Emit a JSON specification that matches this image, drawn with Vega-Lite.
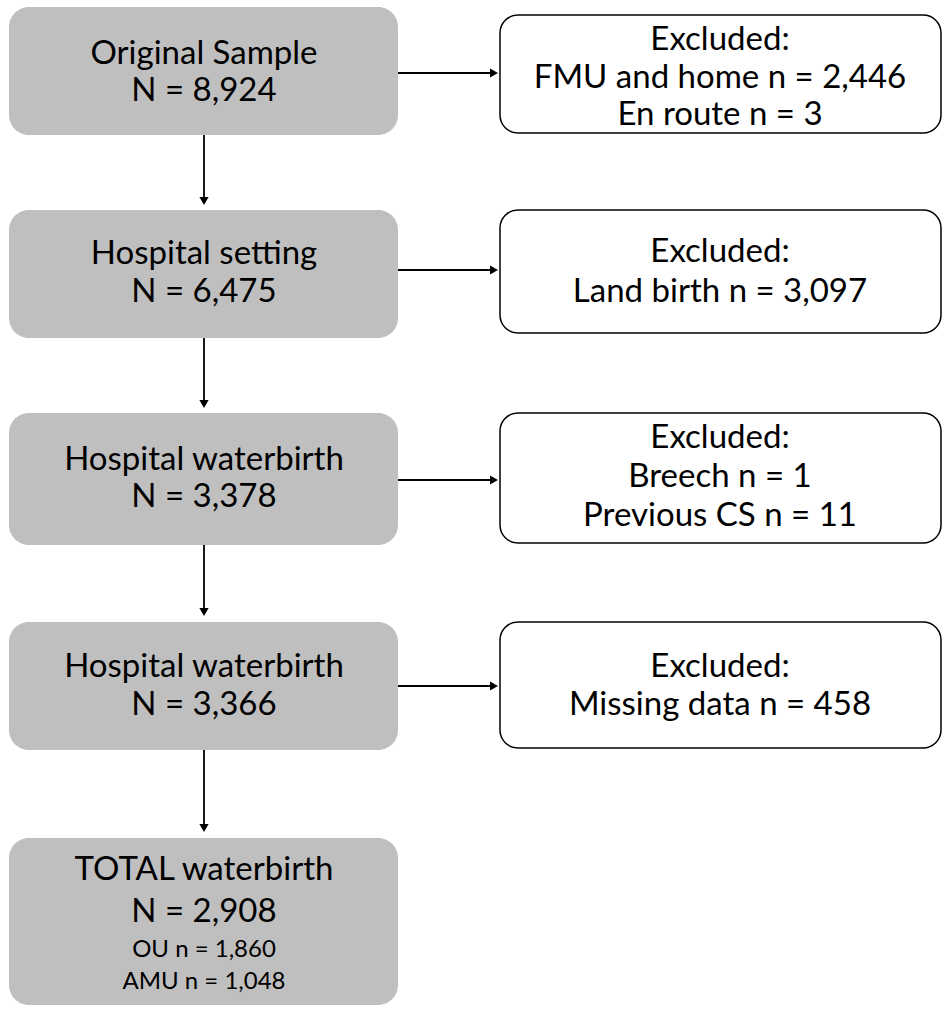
{
  "$schema": "https://vega.github.io/schema/vega-lite/v6.json",
  "autosize": {"type": "fit", "contains": "padding"},
  "width": 943,
  "height": 1010,
  "padding": 0,
  "background": "white",
  "config": {"view": {"stroke": null}},
  "datasets": {
    "boxes": [
      {"kind": "main", "x1": 9, "x2": 398, "y1": 7, "y2": 135},
      {"kind": "main", "x1": 9, "x2": 398, "y1": 210, "y2": 338},
      {"kind": "main", "x1": 9, "x2": 398, "y1": 413, "y2": 545},
      {"kind": "main", "x1": 9, "x2": 398, "y1": 622, "y2": 750},
      {"kind": "main", "x1": 9, "x2": 398, "y1": 838, "y2": 1005},
      {"kind": "excl", "x1": 500, "x2": 941, "y1": 15, "y2": 133},
      {"kind": "excl", "x1": 500, "x2": 941, "y1": 210, "y2": 333},
      {"kind": "excl", "x1": 500, "x2": 941, "y1": 413, "y2": 543},
      {"kind": "excl", "x1": 500, "x2": 941, "y1": 622, "y2": 748}
    ],
    "arrows": [
      {"dir": "down", "x1": 204, "x2": 204, "y1": 135, "y2": 201},
      {"dir": "down", "x1": 204, "x2": 204, "y1": 338, "y2": 404},
      {"dir": "down", "x1": 204, "x2": 204, "y1": 545, "y2": 612},
      {"dir": "down", "x1": 204, "x2": 204, "y1": 750, "y2": 828},
      {"dir": "right", "x1": 398, "x2": 494, "y1": 73, "y2": 73},
      {"dir": "right", "x1": 398, "x2": 494, "y1": 270, "y2": 270},
      {"dir": "right", "x1": 398, "x2": 494, "y1": 480, "y2": 480},
      {"dir": "right", "x1": 398, "x2": 494, "y1": 686, "y2": 686}
    ],
    "labels": [
      {"kind": "big", "x": 204, "y": 54, "label": "Original Sample"},
      {"kind": "big", "x": 204, "y": 91, "label": "N = 8,924"},
      {"kind": "big", "x": 204, "y": 254, "label": "Hospital setting"},
      {"kind": "big", "x": 204, "y": 292, "label": "N = 6,475"},
      {"kind": "big", "x": 204, "y": 460, "label": "Hospital waterbirth"},
      {"kind": "big", "x": 204, "y": 497, "label": "N = 3,378"},
      {"kind": "big", "x": 204, "y": 667, "label": "Hospital waterbirth"},
      {"kind": "big", "x": 204, "y": 705, "label": "N = 3,366"},
      {"kind": "big", "x": 204, "y": 870, "label": "TOTAL waterbirth"},
      {"kind": "big", "x": 204, "y": 912, "label": "N = 2,908"},
      {"kind": "small", "x": 204, "y": 950, "label": "OU n = 1,860"},
      {"kind": "small", "x": 204, "y": 982, "label": "AMU n = 1,048"},
      {"kind": "big", "x": 720, "y": 40, "label": "Excluded:"},
      {"kind": "big", "x": 720, "y": 78, "label": "FMU and home n = 2,446"},
      {"kind": "big", "x": 720, "y": 115, "label": "En route n = 3"},
      {"kind": "big", "x": 720, "y": 252, "label": "Excluded:"},
      {"kind": "big", "x": 720, "y": 292, "label": "Land birth n = 3,097"},
      {"kind": "big", "x": 720, "y": 438, "label": "Excluded:"},
      {"kind": "big", "x": 720, "y": 477, "label": "Breech n = 1"},
      {"kind": "big", "x": 720, "y": 516, "label": "Previous CS n = 11"},
      {"kind": "big", "x": 720, "y": 667, "label": "Excluded:"},
      {"kind": "big", "x": 720, "y": 705, "label": "Missing data n = 458"}
    ]
  },
  "layer": [
    {
      "data": {"name": "boxes"},
      "transform": [{"filter": "datum.kind === 'main'"}],
      "mark": {"type": "rect", "fill": "#bfbfbf", "cornerRadius": 20},
      "encoding": {
        "x": {"field": "x1", "type": "quantitative", "scale": {"domain": [0, 943], "nice": false, "zero": false}, "axis": null},
        "x2": {"field": "x2"},
        "y": {"field": "y1", "type": "quantitative", "scale": {"domain": [0, 1010], "nice": false, "zero": false, "reverse": true}, "axis": null},
        "y2": {"field": "y2"}
      }
    },
    {
      "data": {"name": "boxes"},
      "transform": [{"filter": "datum.kind === 'excl'"}],
      "mark": {"type": "rect", "fill": "white", "stroke": "black", "strokeWidth": 1.5, "cornerRadius": 18},
      "encoding": {
        "x": {"field": "x1", "type": "quantitative", "scale": {"domain": [0, 943], "nice": false, "zero": false}, "axis": null},
        "x2": {"field": "x2"},
        "y": {"field": "y1", "type": "quantitative", "scale": {"domain": [0, 1010], "nice": false, "zero": false, "reverse": true}, "axis": null},
        "y2": {"field": "y2"}
      }
    },
    {
      "data": {"name": "arrows"},
      "mark": {"type": "rule", "color": "black", "strokeWidth": 1.8},
      "encoding": {
        "x": {"field": "x1", "type": "quantitative", "scale": {"domain": [0, 943], "nice": false, "zero": false}, "axis": null},
        "x2": {"field": "x2"},
        "y": {"field": "y1", "type": "quantitative", "scale": {"domain": [0, 1010], "nice": false, "zero": false, "reverse": true}, "axis": null},
        "y2": {"field": "y2"}
      }
    },
    {
      "data": {"name": "arrows"},
      "transform": [{"filter": "datum.dir === 'down'"}],
      "mark": {"type": "point", "shape": "triangle-down", "filled": true, "color": "black", "opacity": 1, "size": 85},
      "encoding": {
        "x": {"field": "x2", "type": "quantitative", "scale": {"domain": [0, 943], "nice": false, "zero": false}, "axis": null},
        "y": {"field": "y2", "type": "quantitative", "scale": {"domain": [0, 1010], "nice": false, "zero": false, "reverse": true}, "axis": null}
      }
    },
    {
      "data": {"name": "arrows"},
      "transform": [{"filter": "datum.dir === 'right'"}],
      "mark": {"type": "point", "shape": "triangle-right", "filled": true, "color": "black", "opacity": 1, "size": 85},
      "encoding": {
        "x": {"field": "x2", "type": "quantitative", "scale": {"domain": [0, 943], "nice": false, "zero": false}, "axis": null},
        "y": {"field": "y2", "type": "quantitative", "scale": {"domain": [0, 1010], "nice": false, "zero": false, "reverse": true}, "axis": null}
      }
    },
    {
      "data": {"name": "labels"},
      "transform": [{"filter": "datum.kind === 'big'"}],
      "mark": {"type": "text", "font": "Lato", "fontSize": 33, "color": "black", "align": "center", "baseline": "middle"},
      "encoding": {
        "x": {"field": "x", "type": "quantitative", "scale": {"domain": [0, 943], "nice": false, "zero": false}, "axis": null},
        "y": {"field": "y", "type": "quantitative", "scale": {"domain": [0, 1010], "nice": false, "zero": false, "reverse": true}, "axis": null},
        "text": {"field": "label"}
      }
    },
    {
      "data": {"name": "labels"},
      "transform": [{"filter": "datum.kind === 'small'"}],
      "mark": {"type": "text", "font": "Lato", "fontSize": 24, "color": "black", "align": "center", "baseline": "middle"},
      "encoding": {
        "x": {"field": "x", "type": "quantitative", "scale": {"domain": [0, 943], "nice": false, "zero": false}, "axis": null},
        "y": {"field": "y", "type": "quantitative", "scale": {"domain": [0, 1010], "nice": false, "zero": false, "reverse": true}, "axis": null},
        "text": {"field": "label"}
      }
    }
  ]
}
